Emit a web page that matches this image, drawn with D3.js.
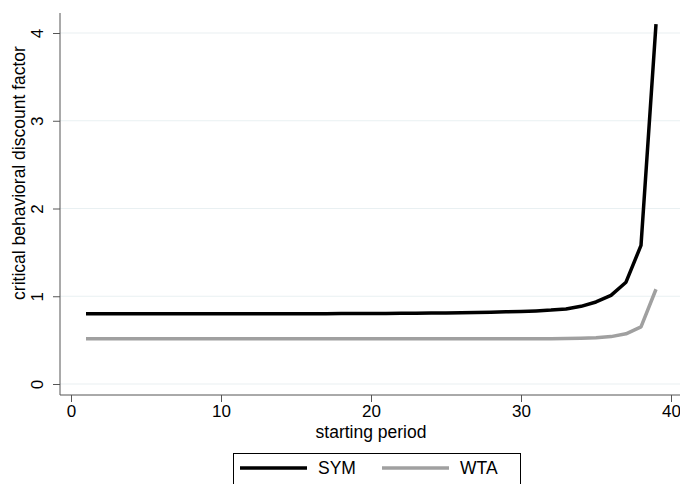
<!DOCTYPE html>
<html lang="en">
<head>
  <meta charset="utf-8">
  <title>Critical discount factor</title>
  <script src="https://d3js.org/d3.v7.min.js"></script>
</head>
<style>
  body { margin: 0; background: #fff; }
  text { font-family: "Liberation Sans", Arial, sans-serif; fill: #000; }
</style>
<body>
  <div class="chart"></div>
</body>
<script>
// starting periods
var periods = d3.range(1, 40);

// SYM: critical behavioral discount factor by starting period
var symValues = [
  0.800, 0.800, 0.800, 0.800, 0.800, 0.800, 0.800, 0.800, 0.800, 0.800,
  0.800, 0.800, 0.800, 0.800, 0.800, 0.801, 0.801, 0.802, 0.802, 0.803,
  0.804, 0.805, 0.806, 0.808, 0.810, 0.812, 0.815, 0.818, 0.822, 0.827,
  0.833, 0.842, 0.855, 0.885, 0.935, 1.010, 1.160, 1.580, 4.100
];

// WTA
var wtaValues = [
  0.515, 0.515, 0.515, 0.515, 0.515, 0.515, 0.515, 0.515, 0.515, 0.515,
  0.515, 0.515, 0.515, 0.515, 0.515, 0.515, 0.515, 0.515, 0.515, 0.515,
  0.515, 0.515, 0.515, 0.515, 0.515, 0.515, 0.515, 0.515, 0.515, 0.515,
  0.516, 0.517, 0.519, 0.522, 0.528, 0.540, 0.572, 0.650, 1.080
];

var xTicks = [0, 10, 20, 30, 40];
var yTicks = [0, 1, 2, 3, 4];
var seriesNames = ["SYM", "WTA"];
var seriesColors = ["#000000", "#a0a0a0"];

var width = 680, height = 484;
var plot = {left: 60, right: 680, top: 13, bottom: 395};

var svg = d3.select(".chart")
  .append("svg")
  .attr("width", width)
  .attr("height", height);

var x = d3.scaleLinear().domain([0, 40]).range([71, 671]);
var y = d3.scaleLinear().domain([0, 4]).range([384, 33]);

// grid lines
svg.append("g")
  .selectAll("line")
  .data(yTicks)
  .enter().append("line")
  .attr("x1", plot.left)
  .attr("x2", plot.right)
  .attr("y1", function(d){ return y(d); })
  .attr("y2", function(d){ return y(d); })
  .attr("stroke", "#e9f0f2")
  .attr("stroke-width", 1.2);

// y axis
var yAxis = svg.append("g")
  .attr("transform", "translate(" + plot.left + ",0)")
  .call(d3.axisLeft(y).tickValues(yTicks).tickFormat(d3.format("d"))
    .tickSize(7).tickSizeOuter(0));
yAxis.select(".domain").remove();
yAxis.selectAll(".tick line").attr("stroke", "#555");
yAxis.selectAll(".tick text")
  .attr("x", 0)
  .attr("dy", 0)
  .attr("transform", "translate(-17,0) rotate(-90)")
  .style("text-anchor", "middle")
  .style("font-size", "17px");

// x axis
var xAxis = svg.append("g")
  .attr("transform", "translate(0," + plot.bottom + ")")
  .call(d3.axisBottom(x).tickValues(xTicks).tickSize(7).tickPadding(3).tickSizeOuter(0));
xAxis.select(".domain").remove();
xAxis.selectAll(".tick line").attr("stroke", "#555");
xAxis.selectAll(".tick text").style("font-size", "17px");

// axis lines
svg.append("line")
  .attr("x1", plot.left).attr("x2", plot.left)
  .attr("y1", plot.top).attr("y2", plot.bottom)
  .attr("stroke", "#555").attr("stroke-width", 1);
svg.append("line")
  .attr("x1", plot.left).attr("x2", plot.right)
  .attr("y1", plot.bottom).attr("y2", plot.bottom)
  .attr("stroke", "#555").attr("stroke-width", 1);

// axis titles
svg.append("text")
  .attr("x", 371)
  .attr("y", 438)
  .style("text-anchor", "middle")
  .style("font-size", "17.5px")
  .text("starting period");

svg.append("text")
  .attr("transform", "translate(25,173) rotate(-90)")
  .style("text-anchor", "middle")
  .style("font-size", "17.5px")
  .text("critical behavioral discount factor");

// lines
var line = d3.line()
  .x(function(d){ return x(d[0]); })
  .y(function(d){ return y(d[1]); });

var series = [symValues, wtaValues];
svg.selectAll(".series")
  .data(series)
  .enter().append("path")
  .attr("class", "series")
  .attr("fill", "none")
  .attr("stroke", function(d, i){ return seriesColors[i]; })
  .attr("stroke-width", 3.5)
  .attr("stroke-linejoin", "round")
  .attr("d", function(d){
    return line(d.map(function(v, k){ return [periods[k], v]; }));
  });

// legend
var legend = svg.append("g");
legend.append("rect")
  .attr("x", 233.5).attr("y", 453.5)
  .attr("width", 287).attr("height", 40)
  .attr("fill", "#fff")
  .attr("stroke", "#000").attr("stroke-width", 1);

var legendItems = legend.selectAll(".item")
  .data(seriesNames)
  .enter().append("g")
  .attr("class", "item")
  .attr("transform", function(d, i){ return "translate(" + (240 + i * 142) + ",468)"; });
legendItems.append("line")
  .attr("x1", 0).attr("x2", 67)
  .attr("stroke", function(d, i){ return seriesColors[i]; })
  .attr("stroke-width", 3.5);
legendItems.append("text")
  .attr("x", 78)
  .attr("dy", "0.36em")
  .style("font-size", "17.5px")
  .text(function(d){ return d; });
</script>
</html>
